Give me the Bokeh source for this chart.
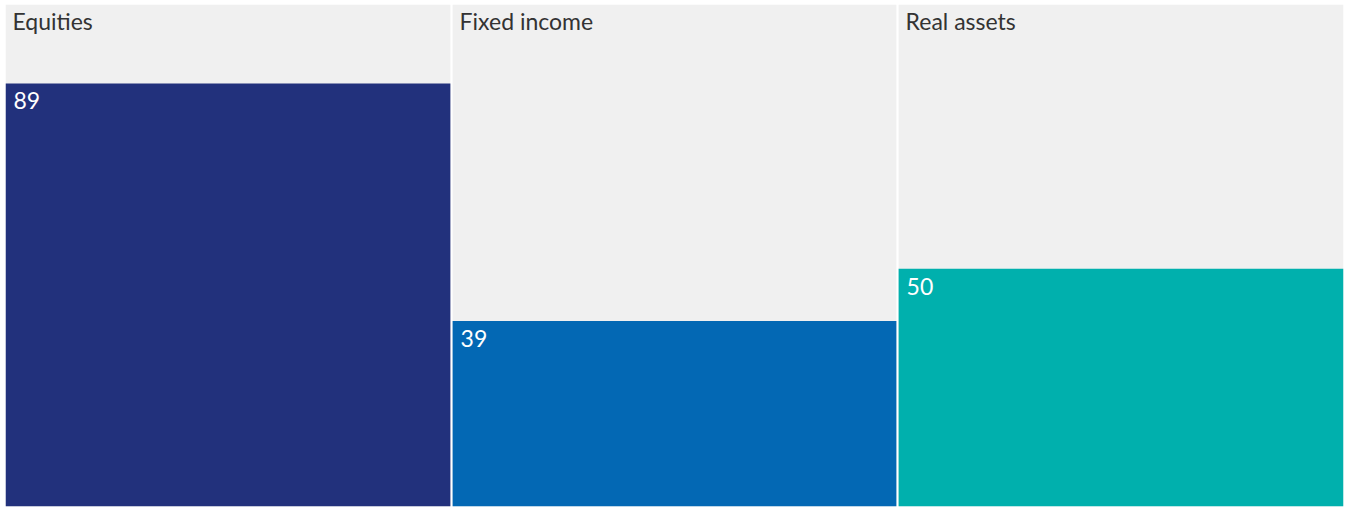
from bokeh.plotting import figure
from bokeh.models import Range1d, ColumnDataSource
from bokeh.core.properties import value
from bokeh.embed import file_html
from bokeh.resources import INLINE

categories = ["Equities", "Fixed income", "Real assets"]
values = [89, 39, 50]
colors = ["#22317C", "#0368B4", "#00B0AD"]
y_max = 105.6

n = len(categories)
gap = 0.0025
left = [i + (gap if i > 0 else 0) for i in range(n)]
right = [i + 1 - (gap if i < n - 1 else 0) for i in range(n)]

src = ColumnDataSource(dict(
    left=left, right=right, top=values, bottom=[0] * n,
    bg_top=[y_max] * n, color=colors, cat=categories,
    label=[str(v) for v in values],
))

p = figure(width=1348, height=507, output_backend="svg", toolbar_location=None,
           x_range=Range1d(0, n), y_range=Range1d(0, y_max),
           min_border=0, min_border_left=5, min_border_right=5,
           min_border_top=4, min_border_bottom=1)
p.axis.visible = False
p.grid.visible = False
p.outline_line_color = None
p.background_fill_color = "white"
p.border_fill_color = "white"

p.quad(left="left", right="right", bottom="bottom", top="bg_top", source=src,
       fill_color="#F0F0F0", line_color=None)
p.quad(left="left", right="right", bottom="bottom", top="top", source=src,
       fill_color="color", line_color=None)

p.text(x="left", y="bg_top", text="cat", source=src, x_offset=7, y_offset=2,
       text_font=value("Lato"), text_font_size="23px", text_color="#333333",
       text_baseline="top", text_align="left")
p.text(x="left", y="top", text="label", source=src, x_offset=8, y_offset=9,
       text_font=value("Lato"), text_font_size="23px", text_color="white",
       text_baseline="top", text_align="left")

open("out.html", "w").write(file_html(p, INLINE))
